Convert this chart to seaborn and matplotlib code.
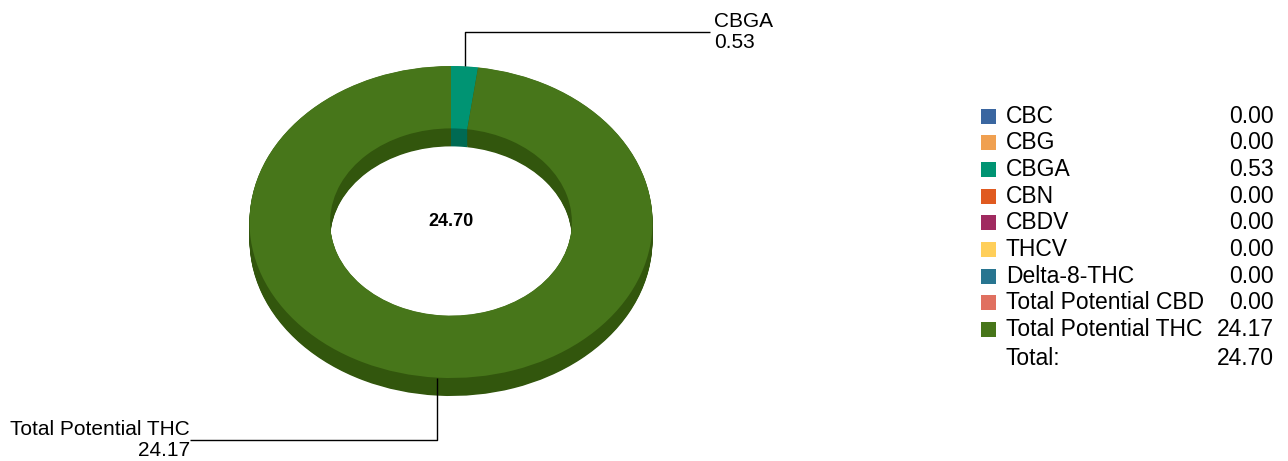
import numpy as np
import matplotlib
matplotlib.use("Agg")
import matplotlib.pyplot as plt
import seaborn as sns
from matplotlib.patches import Rectangle

sns.set_theme(style="white")
plt.rcParams["font.family"] = ["Liberation Sans", "DejaVu Sans"]

# data
names = ["CBC", "CBG", "CBGA", "CBN", "CBDV", "THCV", "Delta-8-THC",
         "Total Potential CBD", "Total Potential THC"]
values = [0.00, 0.00, 0.53, 0.00, 0.00, 0.00, 0.00, 0.00, 24.17]
colors = ["#3a66a0", "#f0a050", "#009473", "#e05a20", "#a02a60",
          "#ffcf5a", "#287590", "#e07060", "#47761a"]
dark_colors = ["#284870", "#a87038", "#006a53", "#9c3f16", "#701d43",
               "#b3913f", "#1c5265", "#9c4e43", "#32560d"]
total = sum(values)

W, H = 1288, 461
fig = plt.figure(figsize=(W / 100, H / 100), dpi=100)
fig.patch.set_facecolor("white")

# donut axes (elliptical, pixel geometry)
rx_px, ry_px, depth_px = 201.5, 156, 18
cx_px, top_px = 451, 66
d = depth_px / ry_px
ax = fig.add_axes([(cx_px - rx_px) / W, (H - (top_px + 2 * ry_px + depth_px)) / H,
                   2 * rx_px / W, (2 * ry_px + depth_px) / H])

wp = dict(width=0.4, edgecolor="none", linewidth=0)
# side walls: stacked copies shifted down
for k in np.linspace(d, 0.002, 24):
    ax.pie(values, colors=dark_colors, startangle=90, counterclock=False,
           radius=1, center=(0, -k), wedgeprops=wp, normalize=True)
ax.pie(values, colors=colors, startangle=90, counterclock=False,
       radius=1, center=(0, 0), wedgeprops=wp, normalize=True)
ax.set_aspect("auto")
ax.set_xlim(-1, 1)
ax.set_ylim(-1 - d, 1)
ax.axis("off")
ax.text(0, 0, f"{total:.2f}", ha="center", va="center", fontsize=13,
        fontweight="bold", color="black")

# overlay axes in pixel coordinates for labels and legend
ov = fig.add_axes([0, 0, 1, 1], zorder=5)
ov.set_xlim(0, W)
ov.set_ylim(H, 0)
ov.axis("off")
ov.patch.set_alpha(0)

# slice labels with elbow leader lines
cum = 0.0
for name, v in zip(names, values):
    if v <= 0:
        continue
    theta = np.deg2rad(90 - (cum + v / 2) / total * 360)
    cum += v
    px, py = ov.transData.inverted().transform(
        ax.transData.transform((np.cos(theta), np.sin(theta))))
    ly = 32 if np.sin(theta) > 0 else 440
    if np.cos(theta) >= 0:
        lx, ha, tx = 710, "left", 714
    else:
        lx, ha, tx = 190, "right", 190
    ov.plot([px, px, lx], [py, ly, ly], color="black", lw=1, solid_capstyle="butt")
    ov.text(tx, ly, f"{name}\n{v:.2f}", ha=ha, va="center", fontsize=15,
            linespacing=1.15, color="black", multialignment=ha)

# legend
fs = 16.5
row0, step = 116, 26.7
for i, (name, v, c) in enumerate(zip(names, values, colors)):
    y = row0 + i * step
    ov.add_patch(Rectangle((981, y - 7.5), 15, 15, facecolor=c, edgecolor="none"))
    ov.text(1006, y, name, ha="left", va="center", fontsize=fs, color="black")
    ov.text(1274, y, f"{v:.2f}", ha="right", va="center", fontsize=fs, color="black")
y = row0 + len(names) * step + 2
ov.text(1006, y, "Total:", ha="left", va="center", fontsize=fs, color="black")
ov.text(1274, y, f"{total:.2f}", ha="right", va="center", fontsize=fs, color="black")

fig.savefig("out.png", dpi=100, facecolor="white")
